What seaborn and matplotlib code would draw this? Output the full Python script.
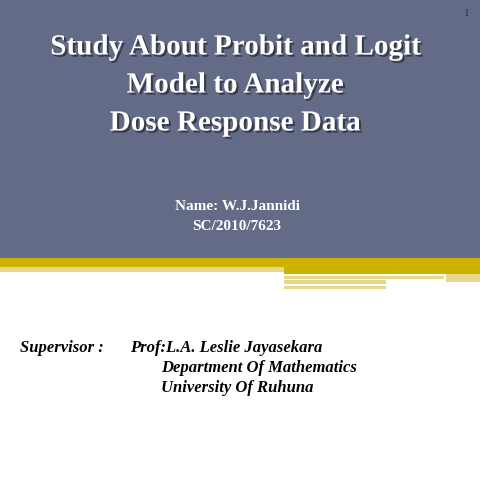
import matplotlib
matplotlib.use("Agg")
import matplotlib.pyplot as plt
import matplotlib.patheffects as pe
import seaborn as sns

sns.set_theme(style="white")
plt.rcParams["font.family"] = ["Liberation Serif", "DejaVu Serif"]

# slide content
TITLE_LINES = ["Study About Probit and Logit", "Model to Analyze", "Dose Response Data"]
NAME_LINES = ["Name: W.J.Jannidi", "SC/2010/7623"]
SUPERVISOR = "Supervisor :"
SUP_LINES = ["Prof:L.A. Leslie Jayasekara", "Department Of Mathematics", "University Of Ruhuna"]
PAGE_NO = "1"

# decorative bands: (x0, y0, width, height, colour) in pixels
BANDS = [
    (0, 0, 480, 258, "#636b86"),
    (0, 258, 480, 9, "#cdb300"),
    (0, 267, 284, 5, "#e6d78a"),
    (284, 267, 196, 7, "#cdb300"),
    (284, 276, 160, 3, "#e6d78a"),
    (284, 280, 102, 4, "#e6d78a"),
    (446, 274, 34, 8, "#e6d78a"),
    (284, 286, 102, 3, "#e6d78a"),
]

fig = plt.figure(figsize=(4.8, 4.8), dpi=100)
ax = fig.add_axes([0, 0, 1, 1])
ax.set_xlim(0, 480)
ax.set_ylim(480, 0)
ax.axis("off")

for x0, y0, w, h, c in BANDS:
    ax.add_patch(plt.Rectangle((x0, y0), w, h, color=c, lw=0))

shadow = [pe.withSimplePatchShadow(offset=(1.5, -1.5), shadow_rgbFace="#2a2e3a", alpha=0.8)]
for i, line in enumerate(TITLE_LINES):
    ax.text(235, 47 + i * 38, line, ha="center", va="center", fontsize=21,
            fontweight="bold", color="white", path_effects=shadow)

for i, line in enumerate(NAME_LINES):
    ax.text(237, 207 + i * 19, line, ha="center", va="center", fontsize=11,
            fontweight="bold", color="white")

ax.text(467, 13, PAGE_NO, ha="center", va="center", fontsize=8, color="#333333")

ax.text(20, 348, SUPERVISOR, ha="left", va="center", fontsize=12,
        fontweight="bold", style="italic", color="black")
ax.text(130, 348, SUP_LINES[0], ha="left", va="center", fontsize=12,
        fontweight="bold", style="italic", color="black")
for i, line in enumerate(SUP_LINES[1:]):
    ax.text(161, 368 + i * 20, line, ha="left", va="center", fontsize=12,
            fontweight="bold", style="italic", color="black")

fig.savefig("out.png", dpi=100)
